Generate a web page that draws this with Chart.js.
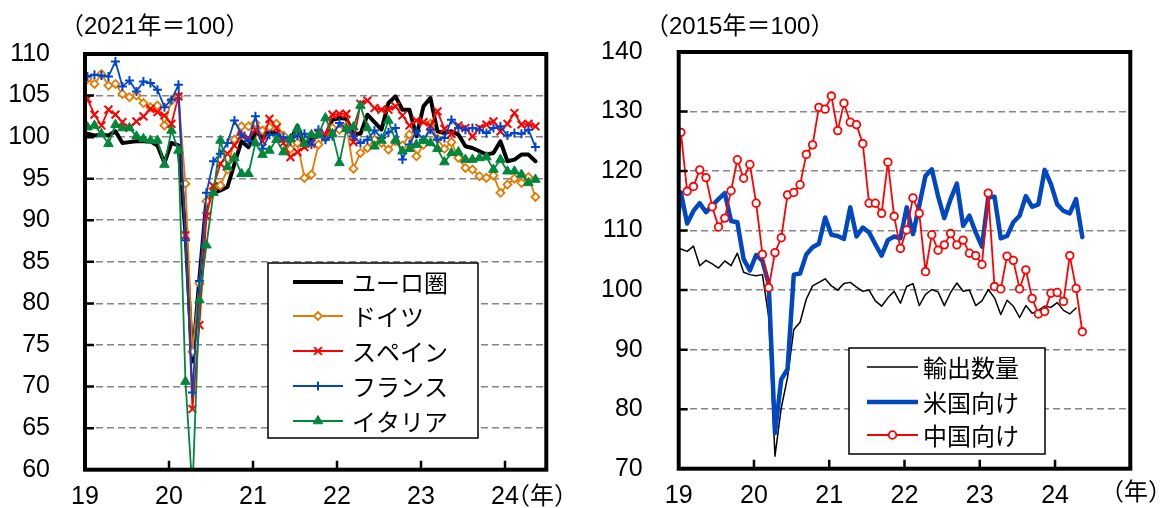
<!DOCTYPE html>
<html>
<head>
<meta charset="utf-8">
<script src="https://cdn.jsdelivr.net/npm/chart.js@4.4.1/dist/chart.umd.min.js"></script>
<style>
  html, body { margin: 0; padding: 0; background: #fff; }
  #wrap { position: relative; width: 1160px; height: 508px; overflow: hidden; }
  canvas { position: absolute; top: 0; }
  #euroChart { left: 0; }
  #japanChart { left: 580px; }
</style>
</head>
<body>
<div id="wrap">
  <canvas id="euroChart" width="580" height="508" style="width:580px;height:508px"></canvas>
  <canvas id="japanChart" width="580" height="508" style="width:580px;height:508px"></canvas>
</div>
<script>
// Monthly keys, 2018-12 .. 2024-05 (the December 2018 value only feeds the clipped lead-in segment)
const monthKeys = [];
for (let y = 2018, m = 12; y < 2024 || m <= 5; ) {
  monthKeys.push(y + '-' + String(m).padStart(2, '0'));
  if (++m > 12) { m = 1; y++; }
}

// Year ticks: months counted from January 2019
const yearTicks = [0, 12, 24, 36, 48, 60];
const yearLabels = ['19', '20', '21', '22', '23', '24'];

// Euro area industrial production (2021 = 100)
const euroArea = [100.4,
  100.4, 100.2, 100.3, 100.2, 100.7, 99.3, 99.4, 99.5, 99.5, 99.5,
  99.0, 96.9, 99.3, 99.0, 88.5, 73.0, 83.0, 92.5, 93.3, 93.6,
  94.0, 96.8, 99.5, 98.8, 100.6, 100.0, 100.7, 100.4, 99.9, 99.6,
  101.4, 98.8, 99.9, 100.1, 100.1, 102.1, 102.3, 102.2, 100.4, 100.4,
  102.7, 101.8, 100.9, 104.1, 104.9, 103.3, 103.3, 100.1, 103.7, 104.7,
  100.7, 100.5, 100.7, 100.3, 98.9, 98.7, 98.3, 97.9, 98.1, 99.5,
  97.1, 97.3, 97.9, 97.9, 97.1];
const germany = [107.0,
  107.0, 106.4, 107.6, 106.2, 106.4, 105.2, 104.8, 105.0, 104.1, 103.6,
  103.8, 101.4, 104.4, 104.9, 94.4, 74.2, 82.4, 92.3, 93.8, 94.2,
  96.1, 99.7, 101.3, 101.3, 101.7, 100.8, 101.2, 101.6, 100.2, 98.6,
  99.3, 95.1, 95.5, 99.1, 99.9, 101.1, 100.9, 101.3, 96.2, 98.1,
  98.7, 99.7, 99.3, 98.5, 99.5, 99.0, 100.3, 97.7, 99.1, 101.6,
  99.8, 98.6, 99.4, 97.5, 96.3, 96.1, 95.3, 95.1, 95.4, 93.3,
  94.3, 95.0, 94.5, 95.2, 92.8];
const spain = [102.0,
  104.6, 102.7, 101.4, 103.3, 102.7, 101.8, 101.1, 101.9, 102.5, 103.4,
  103.0, 102.6, 101.6, 104.9, 88.2, 67.3, 77.4, 90.5, 94.1, 96.8,
  98.0, 99.0, 100.2, 99.9, 100.9, 99.5, 102.2, 101.1, 99.3, 97.6,
  98.2, 98.8, 99.2, 100.4, 100.3, 102.7, 102.8, 102.8, 99.4, 104.0,
  104.4, 103.5, 103.3, 103.3, 103.7, 102.6, 101.4, 102.0, 101.8, 101.4,
  103.1, 101.0, 100.4, 101.4, 101.1, 100.1, 101.1, 101.5, 101.9, 100.7,
  101.6, 102.9, 101.5, 101.6, 101.3];
const france = [107.2,
  107.3, 107.5, 107.4, 107.3, 109.1, 106.1, 106.8, 105.5, 106.7, 106.5,
  105.7, 103.6, 104.5, 106.3, 87.6, 69.3, 82.7, 93.3, 97.1, 98.0,
  99.3, 102.0, 100.3, 99.5, 102.5, 98.6, 100.3, 100.3, 100.0, 99.5,
  100.2, 100.4, 99.1, 100.9, 99.7, 100.1, 101.7, 100.9, 100.1, 99.3,
  99.7, 100.8, 99.9, 100.6, 101.1, 97.3, 99.1, 100.7, 99.7, 100.9,
  99.7, 99.9, 102.1, 101.1, 100.9, 101.1, 100.9, 100.5, 101.1, 101.3,
  100.2, 100.5, 100.4, 100.9, 98.8];
const italy = [101.0,
  101.2, 101.4, 100.4, 99.2, 101.5, 101.1, 101.1, 100.1, 99.8, 99.6,
  99.6, 96.7, 100.8, 98.4, 70.6, 57.5, 80.4, 87.0, 93.3, 99.6,
  96.4, 97.5, 95.6, 95.6, 99.3, 97.9, 98.4, 99.7, 98.2, 99.8,
  101.0, 99.2, 100.3, 100.3, 102.3, 100.4, 96.9, 101.0, 101.2, 103.8,
  101.1, 98.9, 99.6, 102.0, 99.6, 98.3, 98.6, 99.1, 99.6, 99.3,
  98.6, 97.0, 98.1, 98.2, 97.3, 97.3, 97.5, 97.6, 96.1, 97.3,
  95.9, 95.9, 95.5, 94.5, 94.9];

// Japan export volume (2015 = 100); the total runs to 2024-04
const exportVolume = [106.5,
  106.9, 106.5, 107.4, 104.1, 105.0, 104.4, 103.7, 104.9, 104.1, 106.2,
  103.0, 102.6, 102.4, 102.6, 95.5, 72.1, 80.2, 85.3, 93.4, 94.6,
  98.5, 100.7, 101.3, 101.9, 100.7, 100.0, 101.1, 101.3, 100.5, 99.8,
  100.0, 98.2, 97.3, 98.7, 99.8, 97.8, 100.6, 101.1, 97.4, 99.3,
  100.1, 99.7, 97.4, 99.6, 101.2, 99.8, 100.0, 97.4, 98.2, 100.1,
  98.7, 95.9, 98.3, 97.3, 95.4, 97.4, 96.1, 96.6, 97.3, 97.1,
  97.9, 96.6, 96.0, 97.0];
const toUS = [107.6,
  116.4, 111.2, 113.3, 114.6, 113.1, 114.2, 115.3, 116.3, 111.6, 111.4,
  105.2, 103.3, 105.9, 104.9, 101.0, 76.0, 85.0, 86.7, 102.6, 102.8,
  106.0, 107.2, 107.8, 112.2, 109.3, 109.1, 108.6, 113.9, 109.0, 110.5,
  109.7, 107.7, 105.8, 108.4, 109.0, 108.7, 113.9, 109.4, 114.2, 119.2,
  120.3, 115.8, 112.1, 115.3, 117.9, 110.8, 112.5, 109.7, 107.3, 115.6,
  115.7, 108.7, 109.1, 111.4, 112.5, 115.8, 114.0, 114.4, 120.2, 117.8,
  114.4, 113.3, 112.9, 115.3, 108.9];
const toChina = [111.9,
  126.5, 116.6, 117.4, 120.2, 118.9, 114.0, 110.6, 112.1, 116.7, 121.9,
  118.8, 121.1, 114.6, 106.0, 100.4, 106.3, 108.8, 116.0, 116.4, 117.7,
  122.8, 124.4, 130.7, 130.4, 132.6, 126.8, 131.4, 128.2, 127.8, 124.6,
  114.6, 114.6, 112.9, 121.5, 112.4, 107.0, 110.1, 115.5, 112.9, 103.1,
  109.3, 106.7, 107.6, 109.5, 107.6, 108.4, 106.2, 105.8, 104.3, 116.3,
  100.6, 100.2, 105.7, 105.0, 100.2, 103.4, 98.6, 96.0, 96.4, 99.5,
  99.6, 98.1, 105.8, 100.3, 93.0];

// Each monthly value sits a little after the month's tick
const MONTH_SHIFT = 0.35;
const toPoints = values => values.map((v, k) => ({ x: k - 1 + MONTH_SHIFT, y: v }));

const NUM_FONT = "'Liberation Sans', 'DejaVu Sans', sans-serif";
const JP_FONT = "'Noto Sans CJK JP', 'Noto Sans CJK SC', sans-serif";

// Frame, inward tick marks, boxed legend and captions
const framePlugin = {
  id: 'frame',
  afterDraw(chart, args, opts) {
    const { ctx, chartArea: a, scales: { x, y } } = chart;
    ctx.save();
    ctx.strokeStyle = '#000';
    ctx.lineCap = 'butt';
    ctx.lineWidth = 2.5;
    ctx.beginPath();
    x.ticks.forEach(t => {
      if (t.value <= x.min || t.value >= x.max) return;
      const px = x.getPixelForValue(t.value);
      ctx.moveTo(px, a.bottom);
      ctx.lineTo(px, a.bottom - 9);
    });
    y.ticks.forEach(t => {
      if (t.value <= y.min || t.value >= y.max) return;
      const py = y.getPixelForValue(t.value);
      ctx.moveTo(a.left, py);
      ctx.lineTo(a.left + 9, py);
    });
    ctx.stroke();
    ctx.lineWidth = 4;
    ctx.lineJoin = 'miter';
    ctx.strokeRect(a.left, a.top, a.right - a.left, a.bottom - a.top);

    const lg = opts.legend;
    ctx.fillStyle = '#fff';
    ctx.fillRect(lg.box[0], lg.box[1], lg.box[2] - lg.box[0], lg.box[3] - lg.box[1]);
    ctx.lineWidth = 1.5;
    ctx.strokeStyle = '#000';
    ctx.strokeRect(lg.box[0], lg.box[1], lg.box[2] - lg.box[0], lg.box[3] - lg.box[1]);
    chart.data.datasets.forEach((ds, i) => {
      const yy = lg.rows[i];
      ctx.strokeStyle = ds.borderColor;
      ctx.lineWidth = ds.borderWidth;
      ctx.beginPath();
      ctx.moveTo(lg.line[0], yy);
      ctx.lineTo(lg.line[1], yy);
      ctx.stroke();
      if (ds.pointRadius > 0) {
        ctx.fillStyle = ds.pointBackgroundColor;
        ctx.strokeStyle = ds.borderColor;
        ctx.lineWidth = ds.pointBorderWidth;
        Chart.helpers.drawPoint(ctx, {
          pointStyle: ds.pointStyle, rotation: 0,
          radius: ds.pointRadius, borderWidth: ds.pointBorderWidth
        }, (lg.line[0] + lg.line[1]) / 2, yy);
      }
      ctx.fillStyle = '#000';
      ctx.font = '24px ' + JP_FONT;
      ctx.textAlign = 'left';
      ctx.textBaseline = 'middle';
      ctx.fillText(ds.label, lg.textX, yy + 1);
    });

    ctx.fillStyle = '#000';
    ctx.textBaseline = 'middle';
    ctx.textAlign = 'left';
    opts.captions.forEach(c => {
      ctx.font = "24px 'Liberation Sans', " + JP_FONT;
      ctx.fillText(c.text, c.x, c.y);
    });
    ctx.restore();
  }
};

function makeChart(canvas, cfg) {
  return new Chart(canvas, {
    type: 'line',
    data: { datasets: cfg.datasets },
    options: {
      responsive: false,
      animation: false,
      events: [],
      layout: { padding: { left: 0, right: 580 - cfg.area.right, top: cfg.area.top, bottom: 0 } },
      elements: { line: { tension: 0, borderJoinStyle: 'round', borderCapStyle: 'round' } },
      plugins: {
        legend: { display: false },
        tooltip: { enabled: false },
        frame: cfg.frame
      },
      scales: {
        x: {
          type: 'linear',
          min: 0,
          max: cfg.xMax,
          afterFit: s => { s.height = 508 - cfg.area.bottom; },
          afterBuildTicks: s => { s.ticks = yearTicks.map(v => ({ value: v })); },
          grid: { display: false, drawTicks: false, tickLength: 0 },
          border: { display: false },
          ticks: {
            autoSkip: false, maxRotation: 0, padding: 15,
            color: '#000', font: { family: NUM_FONT, size: 25, lineHeight: 1 },
            callback: v => yearLabels[yearTicks.indexOf(v)] ?? ''
          }
        },
        y: {
          min: cfg.yMin,
          max: cfg.yMax,
          afterFit: s => { s.width = cfg.area.left; },
          ticks: {
            stepSize: cfg.yStep, padding: cfg.yPad,
            // a slim line box keeps the end labels from padding the plot area
            color: '#000', font: { family: NUM_FONT, size: 25, lineHeight: 0.1 }
          },
          grid: { color: '#858585', lineWidth: 1.6, drawTicks: false },
          border: { display: false, dash: [7, 4] }
        }
      }
    },
    plugins: [framePlugin]
  });
}

const thin = (label, color, style, radius, extra) => Object.assign({
  label, borderColor: color, borderWidth: 1.8, pointStyle: style,
  pointRadius: radius, pointHoverRadius: radius, pointBorderWidth: 1.8,
  pointBorderColor: color, pointBackgroundColor: color, clip: 0
}, extra || {});

makeChart(document.getElementById('euroChart'), {
  area: { left: 85, top: 54, right: 546.3, bottom: 469.7 },
  xMax: 65.9, yMin: 60, yMax: 110, yStep: 5, yPad: 35,
  frame: {
    legend: { box: [268, 263, 478, 438], line: [293, 343], textX: 352, rows: [282, 316, 351, 386, 421] },
    captions: [
      { text: '（2021年＝100）', x: 60, y: 27 },
      { text: '（年）', x: 506, y: 497 }
    ]
  },
  datasets: [
    { label: 'ユーロ圏', data: toPoints(euroArea), borderColor: '#000', borderWidth: 4,
      pointRadius: 0, pointHoverRadius: 0, clip: 0, order: 5 },
    thin('ドイツ', '#E67A00', 'rectRot', 4, { data: toPoints(germany), pointBackgroundColor: '#fff', order: 4 }),
    thin('スペイン', '#FF0000', 'crossRot', 5.5, { data: toPoints(spain), pointBorderWidth: 2, order: 3 }),
    thin('フランス', '#0044CC', 'cross', 4.5, { data: toPoints(france), pointBorderWidth: 2, order: 2 }),
    thin('イタリア', '#00873C', 'triangle', 5.5, { data: toPoints(italy), pointBorderWidth: 1, order: 1 })
  ]
});

makeChart(document.getElementById('japanChart'), {
  area: { left: 98.7, top: 52, right: 550.3, bottom: 468.7 },
  xMax: 72, yMin: 70, yMax: 140, yStep: 10, yPad: 36,
  frame: {
    legend: { box: [269, 348, 465, 454], line: [287, 338], textX: 343, rows: [367, 402, 435] },
    captions: [
      { text: '（2015年＝100）', x: 65, y: 27 },
      { text: '（年）', x: 520, y: 493 }
    ]
  },
  datasets: [
    { label: '輸出数量', data: toPoints(exportVolume), borderColor: '#000', borderWidth: 1.5,
      pointRadius: 0, pointHoverRadius: 0, clip: 0, order: 3 },
    { label: '米国向け', data: toPoints(toUS), borderColor: '#0047C2', borderWidth: 4.5,
      pointRadius: 0, pointHoverRadius: 0, clip: 0, order: 2 },
    thin('中国向け', '#FF0000', 'circle', 3.8, { data: toPoints(toChina), pointBackgroundColor: '#fff', order: 1 })
  ]
});
</script>
</body>
</html>
